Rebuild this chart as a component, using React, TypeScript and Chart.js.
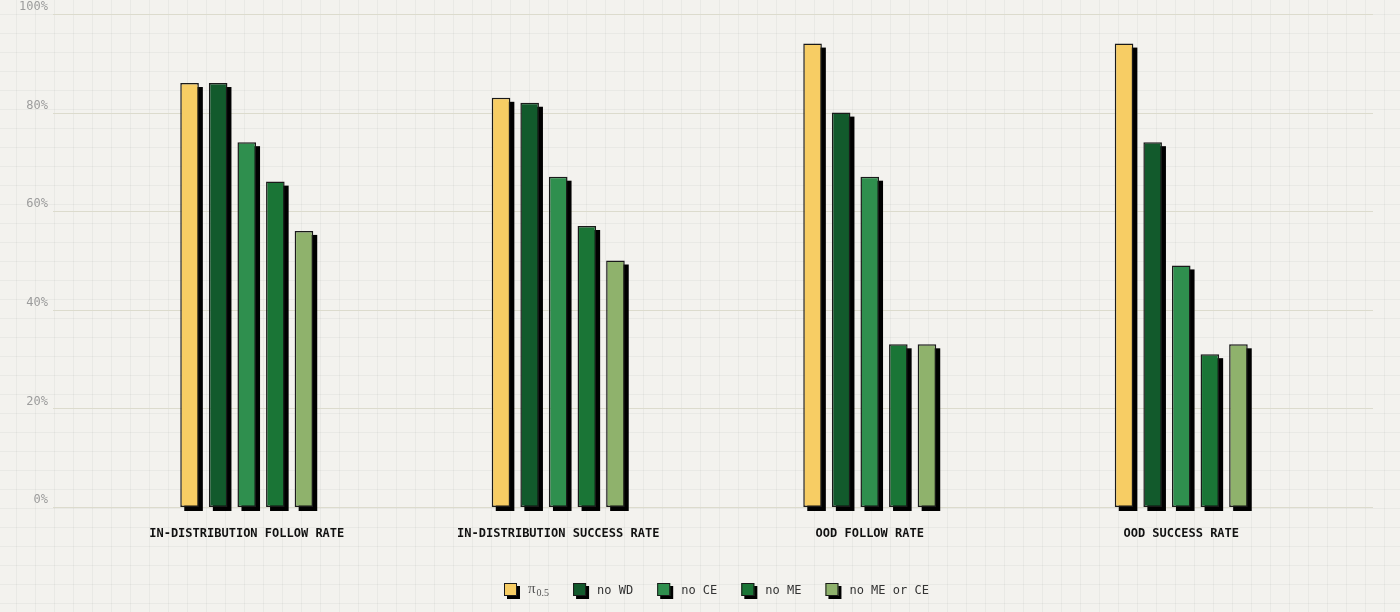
import { useEffect, useRef } from "react"
import { Chart, registerables, type ChartConfiguration, type Plugin } from "chart.js"

Chart.register(...registerables)

const categories = [
  "IN-DISTRIBUTION FOLLOW RATE",
  "IN-DISTRIBUTION SUCCESS RATE",
  "OOD FOLLOW RATE",
  "OOD SUCCESS RATE",
]
const seriesNames = ["π0.5", "no WD", "no CE", "no ME", "no ME or CE"]
const pi05 = [86, 83, 94, 94]
const noWD = [86, 82, 80, 74]
const noCE = [74, 67, 67, 49]
const noME = [66, 57, 33, 31]
const noMEorCE = [56, 50, 33, 33]
const yTicks = [0, 20, 40, 60, 80, 100]
const seriesColors = ["#f7cd64", "#125a2c", "#2f8f4e", "#1a7536", "#8fb26c"]

const MONO = "'DejaVu Sans Mono', monospace"

// gridlines reach past the plot area, and bars get a hard black offset shadow
const gridAndShadow: Plugin<"bar"> = {
  id: "gridAndShadow",
  beforeDatasetsDraw(chart) {
    const { ctx, chartArea, scales } = chart
    const y = scales.y
    ctx.save()
    ctx.strokeStyle = "#dcdbcd"
    ctx.lineWidth = 1
    for (const t of yTicks) {
      const py = Math.round(y.getPixelForValue(t)) + 0.5
      ctx.beginPath()
      ctx.moveTo(chartArea.left - 38, py)
      ctx.lineTo(chartArea.right + 36, py)
      ctx.stroke()
    }

    ctx.fillStyle = "#000"
    chart.data.datasets.forEach((_, i) => {
      const meta = chart.getDatasetMeta(i)
      for (const el of meta.data) {
        const p = (el as any).getProps(["x", "y", "base", "width"], true)
        const top = Math.min(p.y, p.base)
        const h = Math.abs(p.base - p.y)
        ctx.fillRect(p.x - p.width / 2 + 4, top + 4, p.width, h)
      }
    })
    ctx.restore()
  },
}

const customLegend: Plugin<"bar"> = {
  id: "customLegend",
  afterDraw(chart) {
    const { ctx, chartArea } = chart
    const box = 13
    const gapText = 11
    const gapItem = 24
    const y = 590
    const mainFont = `12px ${MONO}`
    const piFont = "15px 'Liberation Serif', serif"
    const subFont = "10px 'Liberation Serif', serif"

    const items = chart.data.datasets.map((ds) => {
      const label = String(ds.label)
      let w = 0
      if (label.startsWith("π")) {
        ctx.font = piFont
        const a = ctx.measureText("π").width
        ctx.font = subFont
        const b = ctx.measureText(label.slice(1)).width
        w = a + 1 + b
      } else {
        ctx.font = mainFont
        w = ctx.measureText(label).width
      }
      return { label, color: ds.backgroundColor as string, w }
    })
    const total =
      items.reduce((s, it) => s + box + gapText + it.w, 0) + gapItem * (items.length - 1)
    let x = Math.round((chartArea.left + chartArea.right) / 2 - total / 2) + 2

    ctx.save()
    for (const it of items) {
      const top = y - 7
      ctx.fillStyle = "#000"
      ctx.fillRect(x + 3, top + 3, box, box)
      ctx.fillStyle = it.color
      ctx.fillRect(x, top, box, box)
      ctx.strokeStyle = "#1a1a1a"
      ctx.lineWidth = 1
      ctx.strokeRect(x + 0.5, top + 0.5, box - 1, box - 1)

      const tx = x + box + gapText
      ctx.textBaseline = "alphabetic"
      ctx.textAlign = "left"
      if (it.label.startsWith("π")) {
        ctx.fillStyle = "#555"
        ctx.font = piFont
        ctx.fillText("π", tx, y + 3)
        const a = ctx.measureText("π").width
        ctx.font = subFont
        ctx.fillText(it.label.slice(1), tx + a + 1, y + 6)
      } else {
        ctx.fillStyle = "#333"
        ctx.font = mainFont
        ctx.fillText(it.label, tx, y + 4)
      }
      x = tx + it.w + gapItem
    }
    ctx.restore()
  },
}

export default function App() {
  const canvasRef = useRef<HTMLCanvasElement>(null)
  const chartRef = useRef<Chart<"bar"> | null>(null)

  useEffect(() => {
    if (!canvasRef.current) return
    if (chartRef.current) chartRef.current.destroy()

    const values = [pi05, noWD, noCE, noME, noMEorCE]

    const config: ChartConfiguration<"bar"> = {
      type: "bar",
      data: {
        labels: categories,
        datasets: values.map((v, i) => ({
          label: seriesNames[i],
          data: v,
          backgroundColor: seriesColors[i],
          borderColor: "#1a1a1a",
          borderWidth: 1.5,
          borderSkipped: false,
          categoryPercentage: 0.459,
          barPercentage: 0.65,
        })),
      },
      options: {
        responsive: true,
        maintainAspectRatio: false,
        animation: false,
        layout: { padding: { top: 14, right: 63, left: 0, bottom: 0 } },
        plugins: {
          legend: { display: false },
          tooltip: { enabled: false },
        },
        scales: {
          x: {
            grid: { display: false },
            border: { display: false },
            ticks: {
              padding: 12,
              color: "#111",
              font: { family: MONO, size: 12, weight: "bold" },
              maxRotation: 0,
              autoSkip: false,
            },
            afterFit: (scale) => {
              scale.height = 105
            },
          },
          y: {
            min: 0,
            max: 100,
            grid: { display: false, drawTicks: false },
            border: { display: false },
            ticks: {
              stepSize: 20,
              padding: 43,
              labelOffset: -7,
              color: "#9c9c9c",
              font: { family: MONO, size: 12 },
              callback: (v) => `${v}%`,
            },
            afterFit: (scale) => {
              scale.width = 91
              scale.paddingTop = 0
              scale.paddingBottom = 0
            },
          },
        },
      },
      plugins: [gridAndShadow, customLegend],
    }

    chartRef.current = new Chart(canvasRef.current, config)

    return () => {
      if (chartRef.current) {
        chartRef.current.destroy()
        chartRef.current = null
      }
    }
  }, [])

  return (
    <div
      style={{
        position: "absolute",
        left: 0,
        top: 0,
        width: 1400,
        height: 612,
        backgroundColor: "#f3f2ee",
        backgroundImage:
          "linear-gradient(to right, rgba(0,0,0,0.04) 1px, transparent 1px), linear-gradient(to bottom, rgba(0,0,0,0.04) 1px, transparent 1px)",
        backgroundSize: "19px 19px",
        backgroundPosition: "16px 14px",
      }}
    >
      <canvas ref={canvasRef} />
    </div>
  )
}
